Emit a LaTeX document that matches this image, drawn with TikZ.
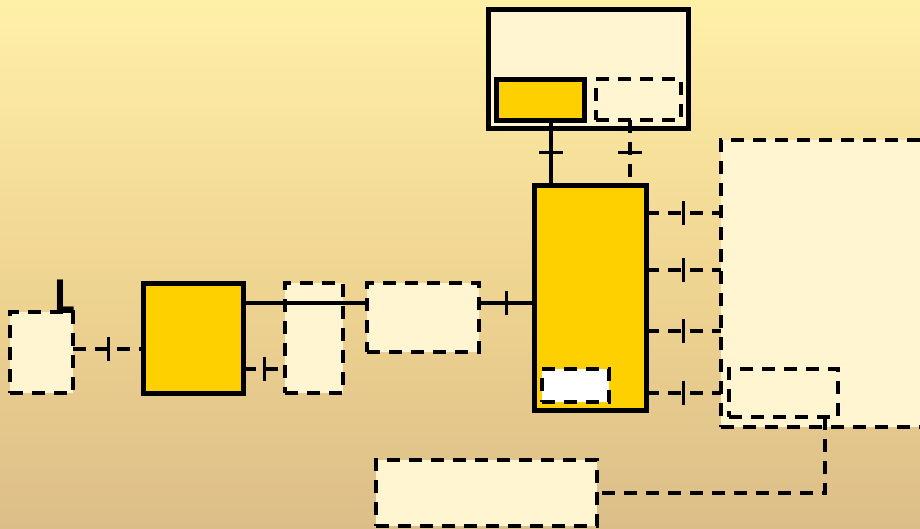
\documentclass[tikz,border=0pt]{standalone}
\usepackage{fontspec}
\newfontfamily\lfont{DejaVu Sans}
\usetikzlibrary{decorations.markings}
\definecolor{bgtop}{RGB}{255,240,168}
\definecolor{bgmid}{RGB}{240,214,146}
\definecolor{bgbot}{RGB}{220,190,136}
\definecolor{cr}{RGB}{255,245,208}
\definecolor{yl}{RGB}{255,208,0}
\tikzset{
  dpat/.style={dash pattern=on 13pt off 9pt},
  dbox/.style={draw, dpat, line width=3.6pt, fill=cr, inner sep=0pt, outer sep=0pt},
  wbox/.style={draw, dpat, line width=3.6pt, fill=white, inner sep=0pt, outer sep=0pt},
  ybox/.style={draw, line width=5pt, fill=yl, inner sep=0pt, outer sep=0pt},
  cbox/.style={draw, line width=5pt, fill=cr, inner sep=0pt, outer sep=0pt},
  conn/.style={line width=3.6pt},
  dconn/.style={conn, dpat},
  midtick/.style={postaction={decorate, decoration={markings,
      mark=at position 0.5 with {\draw[solid, line width=3pt] (0,-12pt) -- (0,12pt);}}}},
}
\begin{document}
\begin{tikzpicture}[x=1pt, y=-1pt]
\useasboundingbox (0,0) rectangle (920,528);
\clip (0,0) rectangle (920,528);
\shade[top color=bgtop, bottom color=bgbot, middle color=bgmid] (0,0) rectangle (920,528);

% nodes
\node[dbox, minimum width=63pt, minimum height=81pt] (A) at (41.5,352.5) {};
\node[ybox, minimum width=100pt, minimum height=110pt] (B) at (193,338) {};
\node[dbox, minimum width=58pt, minimum height=110pt] (C) at (314,338) {};
\node[dbox, minimum width=112pt, minimum height=69pt] (D) at (423,317.5) {};
\node[ybox, minimum width=112pt, minimum height=225pt] (E) at (590,297.5) {};
\node[wbox, minimum width=67pt, minimum height=33pt] (Ew) at (575.5,385.5) {};
\node[cbox, minimum width=200pt, minimum height=119pt] (F) at (588,68.5) {};
\node[ybox, minimum width=88pt, minimum height=41pt] (Fy) at (540,99.5) {};
\node[dbox, minimum width=85pt, minimum height=41pt] (Fd) at (638.5,99.5) {};
\node[dbox, minimum width=209pt, minimum height=287pt] (G) at (825.5,283.5) {};
\node[dbox, minimum width=109pt, minimum height=48pt] (Gs) at (783.5,393) {};
\node[dbox, minimum width=221pt, minimum height=66pt] (H) at (486.5,493) {};

\node[font=\lfont\bfseries\fontsize{46}{46}\selectfont, xscale=0.7, inner sep=0pt, anchor=base west] (Lt) at (54,313) {L};

% connectors
\draw[dconn, midtick] (A.east |- 0,349) -- (B.west |- 0,349);
\draw[conn] (B.east |- 0,303) -- (D.west |- 0,303);
\draw[dconn, midtick] (B.east |- 0,369) -- (C.west |- 0,369);
\draw[conn, midtick] (D.east |- 0,303) -- (E.west |- 0,303);
\draw[conn, midtick] (Fy.south -| 551,0) -- (E.north -| 551,0);
\draw[dconn, midtick] (Fd.south -| 630,0) -- (E.north -| 630,0);
\foreach \yy in {213,270,331,393}{
  \draw[dconn, midtick] (E.east |- 0,\yy) -- (G.west |- 0,\yy);
}
\draw[dconn] (Gs.south -| 825,0) |- (H.east);
\end{tikzpicture}
\end{document}
